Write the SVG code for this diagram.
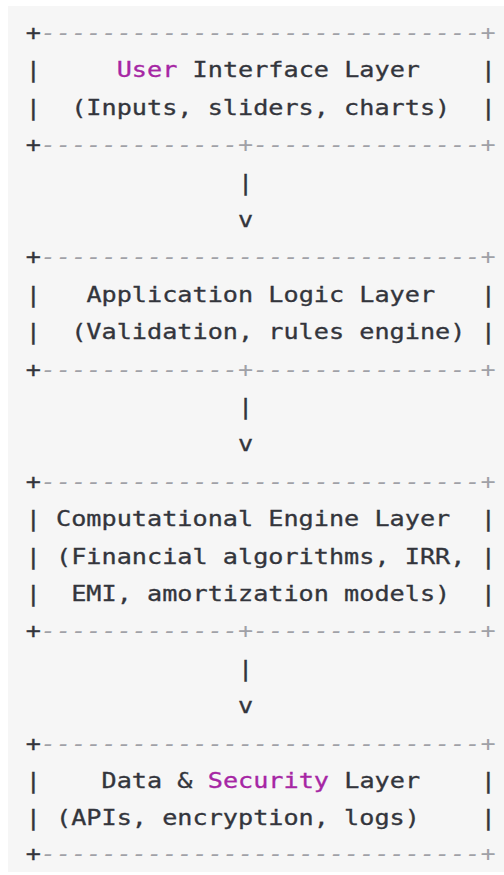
<svg xmlns="http://www.w3.org/2000/svg" width="504" height="875" viewBox="0 0 504 875">
  <style>
    .t { font-family: "DejaVu Sans Mono", "Liberation Mono", monospace; font-size: 20.6px; fill: #33353c; stroke: #33353c; stroke-width: 0.3px; }
    .kw { fill: #a626a4; stroke: #a626a4; }
    .cm { fill: #a0a1a7; stroke: none; font-style: italic; }
  </style>
  <rect x="0" y="0" width="504" height="875" fill="#ffffff"/>
  <rect x="8" y="6" width="496" height="866" fill="#f6f6f6"/>
  <!-- monospace grid: one column = 12.402 local units, widened to 15.17px -->
  <g transform="translate(25.7 0) scale(1.2232 1)" class="t">
    <g id="ui-layer">
      <text y="40"><tspan x="0">+</tspan><tspan x="12.402" class="cm">-----------------------------+</tspan></text>
      <text y="77.4"><tspan x="0">|</tspan><tspan x="74.41" class="kw">User</tspan><tspan x="136.42">Interface Layer</tspan><tspan x="372.06">|</tspan></text>
      <text y="114.8"><tspan x="0">|</tspan><tspan x="37.21">(Inputs, sliders, charts)</tspan><tspan x="372.06">|</tspan></text>
      <text y="152.2"><tspan x="0">+</tspan><tspan x="12.402" class="cm">-------------+---------------+</tspan></text>
    </g>
    <g id="logic-layer">
      <text y="264.4"><tspan x="0">+</tspan><tspan x="12.402" class="cm">-----------------------------+</tspan></text>
      <text y="301.8"><tspan x="0">|</tspan><tspan x="49.61">Application Logic Layer</tspan><tspan x="372.06">|</tspan></text>
      <text y="339.2"><tspan x="0">|</tspan><tspan x="37.21">(Validation, rules engine)</tspan><tspan x="372.06">|</tspan></text>
      <text y="376.6"><tspan x="0">+</tspan><tspan x="12.402" class="cm">-------------+---------------+</tspan></text>
    </g>
    <g id="engine-layer">
      <text y="488.8"><tspan x="0">+</tspan><tspan x="12.402" class="cm">-----------------------------+</tspan></text>
      <text y="526.2"><tspan x="0">|</tspan><tspan x="24.80">Computational Engine Layer</tspan><tspan x="372.06">|</tspan></text>
      <text y="563.6"><tspan x="0">|</tspan><tspan x="24.80">(Financial algorithms, IRR,</tspan><tspan x="372.06">|</tspan></text>
      <text y="601"><tspan x="0">|</tspan><tspan x="37.21">EMI, amortization models)</tspan><tspan x="372.06">|</tspan></text>
      <text y="638.4"><tspan x="0">+</tspan><tspan x="12.402" class="cm">-------------+---------------+</tspan></text>
    </g>
    <g id="data-layer">
      <text y="750.6"><tspan x="0">+</tspan><tspan x="12.402" class="cm">-----------------------------+</tspan></text>
      <text y="788"><tspan x="0">|</tspan><tspan x="62.01">Data &amp;</tspan><tspan x="148.82" class="kw">Security</tspan><tspan x="260.44">Layer</tspan><tspan x="372.06">|</tspan></text>
      <text y="825.4"><tspan x="0">|</tspan><tspan x="24.80">(APIs, encryption, logs)</tspan><tspan x="372.06">|</tspan></text>
      <text y="861"><tspan x="0">+</tspan><tspan x="12.402" class="cm">-----------------------------+</tspan></text>
    </g>
    <g id="connectors">
      <text x="173.63" y="189.6">|</text>
      <text x="173.63" y="227">v</text>
      <text x="173.63" y="414">|</text>
      <text x="173.63" y="451.4">v</text>
      <text x="173.63" y="675.8">|</text>
      <text x="173.63" y="713.2">v</text>
    </g>
  </g>
</svg>
